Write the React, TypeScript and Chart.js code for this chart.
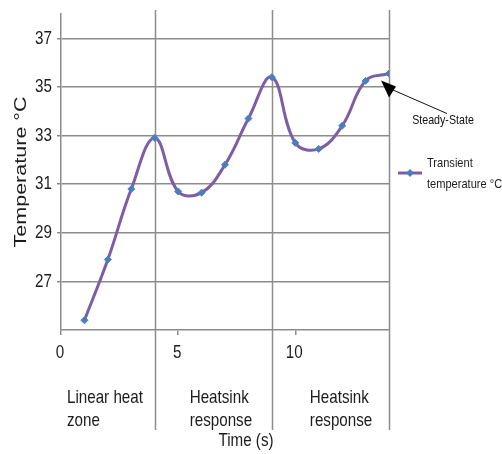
import { useEffect, useRef } from "react";
import { Chart, registerables } from "chart.js";

Chart.register(...registerables);

// Measured transient temperature, one sample per second
const timeSeconds = [1, 2, 3, 4, 5, 6, 7, 8, 9, 10, 11, 12, 13, 14];
const transientTemp = [25.4, 27.9, 30.8, 32.9, 30.7, 30.65, 31.8, 33.7, 35.4, 32.7, 32.45, 33.4, 35.25, 35.55];

const yTickValues = [27, 29, 31, 33, 35, 37];
const xTickValues = [0, 5, 10];
const zoneBoundaries = [4, 9, 14];
const zoneLabels = [
  ["Linear heat", "zone"],
  ["Heatsink", "response"],
  ["Heatsink", "response"],
];
const seriesName = ["Transient", "temperature °C"];
const yTitle = "Temperature °C";
const xTitle = "Time (s)";
const calloutText = "Steady-State";

const GRID = "#8c8c8c";
const LINE = "#7b5ea6";
const MARKER = "#4a7fbf";
const TEXT = "#1c1c1c";
const SANS = "'Liberation Sans', Arial, sans-serif";
// condensed look: regular sans squeezed horizontally
const NARROW_X = 0.8;

function narrowText(ctx: CanvasRenderingContext2D, text: string, x: number, y: number, size: number, align: CanvasTextAlign, baseline: CanvasTextBaseline, sx = NARROW_X) {
  ctx.save();
  ctx.font = `${size}px ${SANS}`;
  ctx.textAlign = align;
  ctx.textBaseline = baseline;
  ctx.translate(x, y);
  ctx.scale(sx, 1);
  ctx.fillText(text, 0, 0);
  ctx.restore();
}

const decorations = {
  id: "decorations",
  beforeDatasetsDraw(chart: any) {
    const { ctx, scales } = chart;
    ctx.save();
    ctx.strokeStyle = GRID;
    ctx.lineWidth = 1.5;
    zoneBoundaries.forEach((b) => {
      const x = Math.round(scales.x.getPixelForValue(b)) + 0.5;
      ctx.beginPath();
      ctx.moveTo(x, 10);
      ctx.lineTo(x, 430);
      ctx.stroke();
    });
    ctx.restore();
  },
  afterDraw(chart: any) {
    const { ctx, scales, chartArea } = chart;
    const xs = scales.x;
    const ys = scales.y;
    ctx.save();
    ctx.fillStyle = TEXT;

    // tick labels
    yTickValues.forEach((v) => narrowText(ctx, String(v), 52, ys.getPixelForValue(v), 19, "right", "middle"));
    xTickValues.forEach((v) => narrowText(ctx, String(v), xs.getPixelForValue(v) - 1, 353, 19, "center", "middle"));

    // zone captions under the axis
    const zoneStarts = [chartArea.left + 6, xs.getPixelForValue(zoneBoundaries[0]) + 35, xs.getPixelForValue(zoneBoundaries[1]) + 38];
    zoneLabels.forEach((lines, i) => {
      lines.forEach((t, j) => narrowText(ctx, t, zoneStarts[i], 403 + j * 23, 18.5, "left", "alphabetic", 0.82));
    });

    // x axis title
    narrowText(ctx, xTitle, 246, 441, 18.5, "center", "middle", 0.82);

    // y axis title
    ctx.save();
    ctx.font = `17px ${SANS}`;
    ctx.textAlign = "center";
    ctx.textBaseline = "middle";
    ctx.translate(21, 172);
    ctx.rotate(-Math.PI / 2);
    const w = ctx.measureText(yTitle).width;
    ctx.scale(151 / w, 1);
    ctx.fillText(yTitle, 0, 0);
    ctx.restore();

    // legend
    ctx.strokeStyle = LINE;
    ctx.lineWidth = 3;
    ctx.beginPath();
    ctx.moveTo(398, 173);
    ctx.lineTo(422, 173);
    ctx.stroke();
    ctx.fillStyle = MARKER;
    ctx.beginPath();
    ctx.moveTo(410, 169);
    ctx.lineTo(414, 173);
    ctx.lineTo(410, 177);
    ctx.lineTo(406, 173);
    ctx.closePath();
    ctx.fill();
    ctx.fillStyle = TEXT;
    narrowText(ctx, seriesName[0], 427, 163, 13.5, "left", "middle", 0.82);
    narrowText(ctx, seriesName[1], 427, 184, 13.5, "left", "middle", 0.82);

    // steady-state callout pointing at the last sample
    const last = timeSeconds.length - 1;
    const px = xs.getPixelForValue(timeSeconds[last]);
    const py = ys.getPixelForValue(transientTemp[last]);
    const tipX = px - 8;
    const tipY = py + 7;
    ctx.strokeStyle = "#111";
    ctx.lineWidth = 1;
    ctx.beginPath();
    ctx.moveTo(tipX + 11, tipY + 9);
    ctx.lineTo(tipX + 66, tipY + 33);
    ctx.stroke();
    ctx.fillStyle = "#000";
    ctx.beginPath();
    ctx.moveTo(tipX, tipY);
    ctx.lineTo(tipX + 15, tipY + 6);
    ctx.lineTo(tipX + 8, tipY + 17);
    ctx.closePath();
    ctx.fill();
    ctx.fillStyle = "#111";
    narrowText(ctx, calloutText, 443, 120, 13, "center", "middle", 0.82);
    ctx.restore();
  },
};

export default function App() {
  const canvasRef = useRef<HTMLCanvasElement | null>(null);

  useEffect(() => {
    document.body.style.margin = "0";
    const canvas = canvasRef.current;
    if (!canvas) return;
    const points = timeSeconds.map((t, i) => ({ x: t, y: transientTemp[i] }));
    const chart = new Chart(canvas, {
      type: "line",
      data: {
        datasets: [
          {
            label: seriesName.join(" "),
            data: points,
            borderColor: LINE,
            borderWidth: 3,
            tension: 0.4,
            fill: false,
            pointStyle: "rectRot",
            pointRadius: 3.5,
            pointBackgroundColor: MARKER,
            pointBorderColor: MARKER,
            pointBorderWidth: 1,
          },
        ],
      },
      options: {
        responsive: false,
        animation: false,
        events: [],
        layout: { padding: { left: 0, right: 113, top: 14, bottom: 0 } },
        plugins: { legend: { display: false }, tooltip: { enabled: false } },
        scales: {
          x: {
            type: "linear",
            min: 0,
            max: 14,
            afterBuildTicks: (s: any) => {
              s.ticks = xTickValues.map((v) => ({ value: v }));
            },
            afterFit: (s: any) => {
              s.height = 124;
            },
            grid: { drawOnChartArea: false, drawTicks: true, tickLength: 5, color: GRID, lineWidth: 1.5 },
            border: { color: GRID, width: 1.5 },
            ticks: { display: false },
          },
          y: {
            type: "linear",
            min: 25,
            max: 38,
            afterBuildTicks: (s: any) => {
              s.ticks = yTickValues.map((v) => ({ value: v }));
            },
            afterFit: (s: any) => {
              s.width = 61;
            },
            grid: { color: GRID, lineWidth: 1.5, tickLength: 4 },
            border: { color: GRID, width: 1.5 },
            ticks: { display: false },
          },
        },
      },
      plugins: [decorations],
    } as any);
    return () => chart.destroy();
  }, []);

  return <canvas ref={canvasRef} width={502} height={454} style={{ display: "block" }} />;
}
